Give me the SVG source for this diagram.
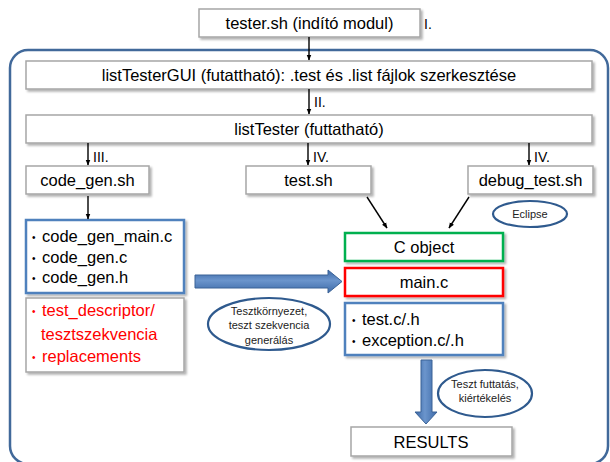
<svg xmlns="http://www.w3.org/2000/svg" width="610" height="462" viewBox="0 0 610 462">
<defs>
<filter id="sh" x="-10%" y="-20%" width="130%" height="160%">
<feDropShadow dx="2" dy="2" stdDeviation="1.2" flood-color="#000" flood-opacity="0.3"/>
</filter>
<marker id="ah" viewBox="0 0 10 10" refX="9" refY="5" markerWidth="6" markerHeight="6" orient="auto" markerUnits="userSpaceOnUse">
<path d="M0,1 L10,5 L0,9 z" fill="#000"/>
</marker>
<linearGradient id="gh" x1="0" y1="0" x2="0" y2="1">
<stop offset="0" stop-color="#3a67a6"/>
<stop offset="0.45" stop-color="#6b95cc"/>
<stop offset="1" stop-color="#3d6aa8"/>
</linearGradient>
<linearGradient id="gv" x1="0" y1="0" x2="1" y2="0">
<stop offset="0" stop-color="#3a67a6"/>
<stop offset="0.45" stop-color="#6b95cc"/>
<stop offset="1" stop-color="#3d6aa8"/>
</linearGradient>
</defs>
<style>
text{font-family:"Liberation Sans",Arial,sans-serif;fill:#000}
.box{fill:#fff;stroke:#a6a6a6;stroke-width:1.5;filter:url(#sh)}
.blue{fill:#fff;stroke:#4f81bd;stroke-width:2.5;filter:url(#sh)}
.green{fill:#fff;stroke:#00b050;stroke-width:2.5;filter:url(#sh)}
.red{fill:#fff;stroke:#ff0000;stroke-width:2.5;filter:url(#sh)}
.ell{fill:#fff;stroke:#2f5a8e;stroke-width:2.2}
.t{font-size:16.5px;text-anchor:middle}
.l{font-size:16.5px}
.lab{font-size:14px}
.s{font-size:11px;text-anchor:middle;fill:#222}
.r{fill:#ff0000}
.b{font-size:10px}
.con line{stroke:#000;stroke-width:1.4;marker-end:url(#ah)}
.big{stroke:#3a6296;stroke-width:1}
</style>
<rect id="container" x="10" y="50" width="598" height="414" rx="18" fill="none" stroke="#41699a" stroke-width="2.5"/>

<g id="tester">
<rect class="box" x="199" y="9" width="221" height="28"/>
<text class="t" x="309.5" y="29">tester.sh (indító modul)</text>
</g>
<text class="lab" x="424" y="29">I.</text>

<g id="listTesterGUI">
<rect class="box" x="26" y="61" width="566" height="28"/>
<text class="t" x="309" y="81">listTesterGUI (futattható): .test és .list fájlok szerkesztése</text>
</g>

<g id="listTester">
<rect class="box" x="26" y="115" width="566" height="28"/>
<text class="t" x="309" y="135">listTester (futtatható)</text>
</g>

<g id="code_gen_sh">
<rect class="box" x="26" y="166" width="123" height="28"/>
<text class="t" x="87.5" y="186">code_gen.sh</text>
</g>

<g id="test_sh">
<rect class="box" x="246" y="166" width="125" height="28"/>
<text class="t" x="308.5" y="186">test.sh</text>
</g>

<g id="debug_test_sh">
<rect class="box" x="468" y="166" width="125" height="28"/>
<text class="t" x="530.5" y="186">debug_test.sh</text>
</g>

<g id="eclipse">
<ellipse class="ell" cx="530" cy="214" rx="37" ry="13"/>
<text class="s" x="530" y="218">Eclipse</text>
</g>

<g id="code_gen_files">
<rect class="blue" x="26" y="220" width="158" height="73"/>
<text class="b" x="32" y="241">•</text><text class="l" x="42" y="242">code_gen_main.c</text>
<text class="b" x="32" y="262">•</text><text class="l" x="42" y="263">code_gen.c</text>
<text class="b" x="32" y="282">•</text><text class="l" x="42" y="283">code_gen.h</text>
</g>

<g id="descriptors">
<rect class="box" x="26" y="298" width="158" height="74"/>
<text class="b r" x="32" y="315">•</text><text class="l r" x="42" y="316">test_descriptor/</text>
<text class="l r" x="41" y="340">tesztszekvencia</text>
<text class="b r" x="32" y="361">•</text><text class="l r" x="42" y="362">replacements</text>
</g>

<g id="c_object">
<rect class="green" x="345" y="233" width="158" height="28"/>
<text class="t" x="424" y="253">C object</text>
</g>

<g id="main_c">
<rect class="red" x="345" y="268" width="158" height="28"/>
<text class="t" x="424" y="288">main.c</text>
</g>

<g id="test_files">
<rect class="blue" x="345" y="303" width="158" height="52"/>
<text class="b" x="352" y="324">•</text><text class="l" x="362" y="325">test.c/.h</text>
<text class="b" x="352" y="345">•</text><text class="l" x="362" y="346">exception.c/.h</text>
</g>

<g id="gen_note">
<ellipse class="ell" cx="269" cy="324" rx="61" ry="26"/>
<text class="s" x="269" y="315">Tesztkörnyezet,</text>
<text class="s" x="269" y="329">teszt szekvencia</text>
<text class="s" x="269" y="344">generálás</text>
</g>

<g id="run_note">
<ellipse class="ell" cx="485" cy="393.5" rx="47" ry="23.5"/>
<text class="s" x="485" y="388">Teszt futtatás,</text>
<text class="s" x="485" y="402">kiértékelés</text>
</g>

<g id="results">
<rect class="box" x="351" y="427" width="161" height="29"/>
<text class="t" x="431" y="448">RESULTS</text>
</g>

<g id="connectors">
<g class="con">
<line x1="309" y1="37" x2="309" y2="60"/>
<line x1="309" y1="89" x2="309" y2="114"/>
<line x1="88" y1="143" x2="88" y2="165"/>
<line x1="308" y1="143" x2="308" y2="165"/>
<line x1="529" y1="143" x2="529" y2="165"/>
<line x1="88" y1="196" x2="88" y2="219"/>
<line x1="367" y1="197" x2="387" y2="228"/>
<line x1="469" y1="197" x2="449" y2="228"/>
</g>
<path class="big" fill="url(#gh)" d="M195,275 L328,275 L328,270 L342,281.5 L328,293 L328,288 L195,288 Z"/>
<path class="big" fill="url(#gv)" d="M421,360 L432,360 L432,412 L437,412 L426,424 L415,412 L421,412 Z"/>
<text class="lab" x="314" y="107">II.</text>
<text class="lab" x="93" y="162">III.</text>
<text class="lab" x="313" y="162">IV.</text>
<text class="lab" x="534" y="162">IV.</text>
</g>
</svg>
